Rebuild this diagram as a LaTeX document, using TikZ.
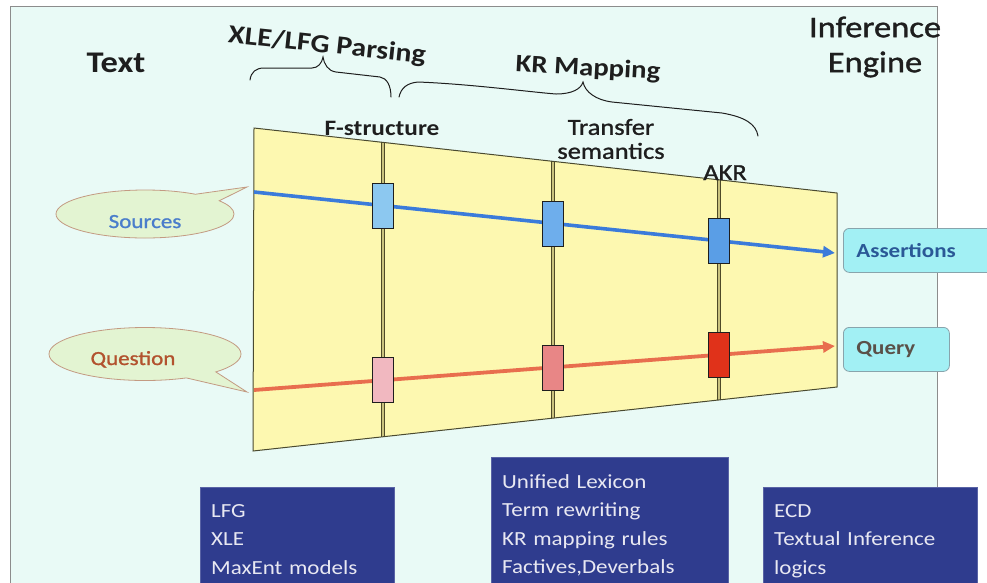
\documentclass[tikz,border=0pt]{standalone}
\usepackage{fontspec}
\setmainfont{Carlito}[FakeStretch=1.15]
\newfontfamily\medfont{Carlito}[FakeStretch=1.15, FakeBold=1.2]
\usetikzlibrary{shapes.callouts,calc,arrows.meta}
\definecolor{panelfill}{HTML}{E9FAF6}
\definecolor{panelline}{HTML}{8C8C8C}
\definecolor{trapfill}{HTML}{FDF8B0}
\definecolor{trapline}{HTML}{4A4A30}
\definecolor{rodline}{HTML}{4E4A28}
\definecolor{rodfill}{HTML}{C9C27E}
\definecolor{blueline}{HTML}{3B7BDA}
\definecolor{redline}{HTML}{E86E4E}
\definecolor{boxA}{HTML}{8CC8F0}
\definecolor{boxB}{HTML}{6EAEEC}
\definecolor{boxC}{HTML}{5A9EE6}
\definecolor{boxD}{HTML}{F1B8C0}
\definecolor{boxE}{HTML}{E88686}
\definecolor{boxF}{HTML}{E0321A}
\definecolor{callfill}{HTML}{E3F4D2}
\definecolor{callline}{HTML}{C39A82}
\definecolor{srctext}{HTML}{4A7DCB}
\definecolor{qtext}{HTML}{B2522E}
\definecolor{outfill}{HTML}{A2F0F4}
\definecolor{outline}{HTML}{88A4AC}
\definecolor{asstext}{HTML}{2A5896}
\definecolor{querytext}{HTML}{5A5048}
\definecolor{navy}{HTML}{2F3C8E}
\definecolor{navytext}{HTML}{E8E8F2}
\definecolor{ink}{HTML}{1E1E1E}
\tikzset{
  stage/.style={draw=ink, line width=0.6pt, minimum width=21pt, minimum height=45pt, inner sep=0pt},
  rod/.style={draw=rodline, line width=0.9pt, double=rodfill, double distance=2.6pt},
  brace/.style={draw=ink, line width=1pt, line cap=round},
  bubble/.style={ellipse callout, draw=callline, fill=callfill, line width=0.8pt, inner sep=0pt, callout pointer arc=22, font=\medfont\fontsize{20}{24}\selectfont},
  outbox/.style={draw=outline, fill=outfill, rounded corners=6pt, line width=0.8pt, inner sep=0pt, font=\bfseries\fontsize{20}{24}\selectfont},
  navybox/.style={fill=navy, draw=navy!80!white, text=navytext, anchor=north west, align=left, inner xsep=11pt, inner ysep=0pt, font=\fontsize{20}{28.5}\selectfont},
  lbl/.style={inner sep=0pt, text=ink, align=center}
}
\begin{document}
\begin{tikzpicture}[x=1pt,y=-1pt]
\useasboundingbox (0,0) rectangle (987,582);
\clip (0,0) rectangle (987,582);
\fill[white] (0,0) rectangle (987,582);
% panel
\draw[panelline, fill=panelfill, line width=1pt] (10,6) rectangle (937,620);

% trapezoid
\coordinate (TL) at (254,128);
\coordinate (TR) at (837,193);
\coordinate (BR) at (837,387);
\coordinate (BL) at (253,451);
\fill[trapfill] (TL) -- (TR) -- (BR) -- (BL) -- cycle;

% rods
\begin{scope}
  \clip (TL) -- (TR) -- (BR) -- (BL) -- cycle;
  \coordinate (r1t) at (383,100); \coordinate (r1b) at (383,480);
  \coordinate (r2t) at (553,100); \coordinate (r2b) at (553,480);
  \coordinate (r3t) at (719,100); \coordinate (r3b) at (719,480);
  \draw[rod] (r1t) -- (r1b);
  \draw[rod] (r2t) -- (r2b);
  \draw[rod] (r3t) -- (r3b);
\end{scope}
\draw[trapline, line width=1pt] (TL) -- (TR) -- (BR) -- (BL) -- cycle;

% flows
\coordinate (bS) at (254,192);
\coordinate (bE) at (835,253);
\coordinate (rS) at (254,390);
\coordinate (rE) at (835,346);
\draw[blueline, line width=3.6pt, -{Triangle[length=12pt,width=11pt]}] (bS) -- (bE);
\draw[redline, line width=3.8pt, -{Triangle[length=12pt,width=11pt]}] (rS) -- (rE);

\node[stage, fill=boxA] (b1) at ($(bS)!0.222!(bE)$) {};
\node[stage, fill=boxB] (b2) at ($(bS)!0.5146!(bE)$) {};
\node[stage, fill=boxC] (b3) at ($(bS)!0.8003!(bE)$) {};
\node[stage, fill=boxD] (q1) at ($(rS)!0.222!(rE)$) {};
\node[stage, fill=boxE] (q2) at ($(rS)!0.5146!(rE)$) {};
\node[stage, fill=boxF] (q3) at ($(rS)!0.8003!(rE)$) {};

% callouts
\coordinate (srcTip) at (247,187);
\coordinate (qTip) at (247,392);
\node[bubble, minimum width=178pt, minimum height=48pt, text=srctext, text height=30pt, text depth=2pt, callout absolute pointer={(srcTip)}] (src) at (145,214) {Sources};
\node[bubble, minimum width=192pt, minimum height=53pt, text=qtext, text height=26pt, text depth=4pt, callout absolute pointer={(qTip)}] (qst) at (145,354) {\hspace*{-24pt}Question};

% output boxes
\node[outbox, text=asstext, minimum width=152pt, minimum height=44pt, anchor=north west, text width=142pt, align=left, inner xsep=13pt] (ass) at (843,228) {Assertions};
\node[outbox, text=querytext, minimum width=94pt, minimum height=44pt, anchor=north west, text width=80pt, align=left, inner xsep=13pt] (qry) at (843,327) {Query};

% headings
\node[lbl, font=\bfseries\fontsize{30}{36}\selectfont, anchor=base] (txt) at (116,72) {Text};
\node[lbl, font=\bfseries\fontsize{26}{30}\selectfont, rotate=-6] (xle) at (327,46) {XLE/LFG Parsing};
\node[lbl, font=\bfseries\fontsize{25}{30}\selectfont, rotate=-3] (krm) at (588,69) {KR Mapping};
\node[lbl, font=\medfont\fontsize{30}{35}\selectfont] (inf) at (875,47) {Inference\\Engine};
\node[lbl, font=\bfseries\fontsize{22}{26}\selectfont, anchor=base] (fs) at (382,135) {F-structure};
\node[lbl, font=\medfont\fontsize{23}{24}\selectfont] (ts) at (611,139) {Transfer\\semantics};
\node[lbl, font=\medfont\fontsize{23}{26}\selectfont, anchor=base] (akr) at (725,180) {AKR};

% braces
\draw[brace] (250,80) .. controls (251,72) and (256,68) .. (264,68)
  -- (312,68) .. controls (318,68) and (322,63) .. (323,57)
  .. controls (324,64) and (328,71) .. (336,72)
  -- (380,77) .. controls (387,78) and (391,86) .. (391,97);
\draw[brace] (399,97) .. controls (401,88) and (407,83) .. (418,82)
  .. controls (470,84) and (530,92) .. (556,94)
  .. controls (572,94) and (581,89) .. (583,82)
  .. controls (585,92) and (596,100) .. (612,102)
  -- (722,113) .. controls (745,117) and (756,124) .. (758,136);

% bottom boxes
\node[navybox, text width=172pt] (lfg) at (200,487)
  {\rule{0pt}{30pt}LFG\\XLE\\MaxEnt models\rule[-30pt]{0pt}{0pt}};
\node[navybox, text width=215pt] (kr) at (491,457)
  {\rule{0pt}{31pt}Unified Lexicon\\Term rewriting\\KR mapping rules\\Factives,Deverbals\rule[-30pt]{0pt}{0pt}};
\node[navybox, text width=192pt] (ecd) at (763,487)
  {\rule{0pt}{30pt}ECD\\Textual Inference\\logics\rule[-30pt]{0pt}{0pt}};
\end{tikzpicture}
\end{document}
